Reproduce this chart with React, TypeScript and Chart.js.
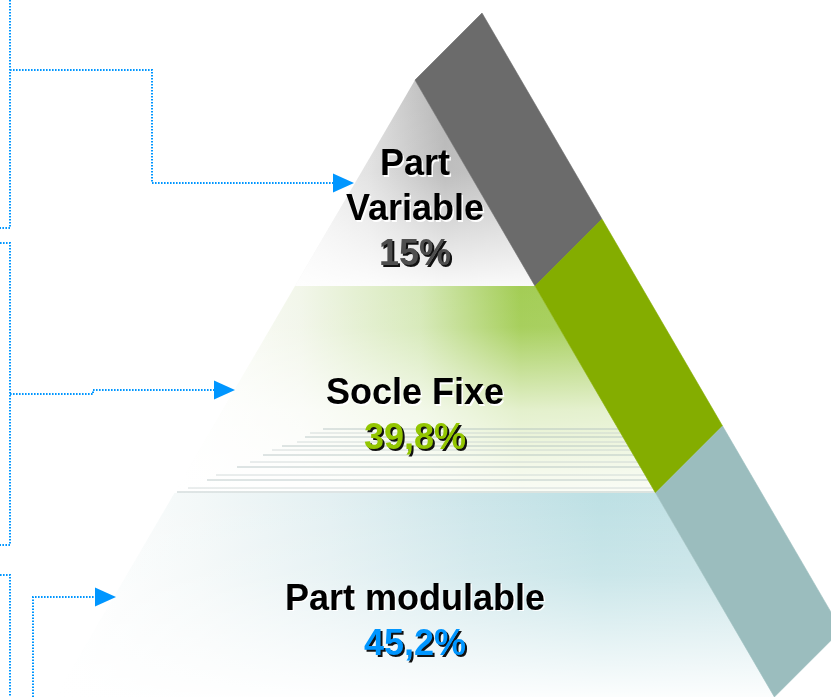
import React, { useEffect, useRef } from 'react';
import { Chart, registerables } from 'chart.js';

Chart.register(...registerables);

// ---- data ----
const categories: string[][] = [['Part', 'Variable'], ['Socle Fixe'], ['Part modulable']];
const shares: string[] = ['15%', '39,8%', '45,2%'];
// level boundaries of the pyramid (apex -> base), in chart units
const levelEdges: number[] = [80, 286, 493, 697];
const apexX = 415;
const sideSlope = 0.5825;
const sideDepth = 67;
// decorative streaks in the middle level
const streakY: number[] = [429, 433, 437, 442, 446, 450, 455, 462, 467, 475, 480, 488, 492];
const streakStart: number[] = [323, 310, 305, 297, 282, 272, 263, 250, 237, 216, 207, 188, 177];
// dotted connector paths (x, y)
const connectorPaths: number[][][] = [
  [[10, 0], [10, 228], [0, 228]],
  [[10, 70], [152, 70], [152, 183], [333, 183]],
  [[0, 243], [10, 243], [10, 545], [0, 545]],
  [[10, 394], [93, 394], [93, 390], [214, 390]],
  [[0, 575], [10, 575], [10, 697]],
  [[33, 697], [33, 597], [95, 597]],
];
const arrowTargets: number[] = [1, 3, 5];

// ---- styles ----
const shareColors = ['#4f4f4f', '#93c600', '#0096ff'];
const sideColors = ['#6b6b6b', '#84ad00', '#9bbdbe'];
const bandHStops: [number, string][][] = [
  [[290, '#f6f6f6'], [370, '#dedede'], [445, '#b5b5b5'], [535, '#c4c4c4']],
  [[175, '#ffffff'], [300, '#f2f6ea'], [420, '#d6e9b8'], [520, '#a3cd55'], [655, '#aad163']],
  [[58, '#ffffff'], [200, '#f3f8f8'], [330, '#e3f0f2'], [470, '#cde6ea'], [600, '#bde0e4'], [775, '#c5e2e6']],
];
const bandVFade: [number, number][][] = [
  [[0, 0], [0.45, 0.12], [1, 0.92]],
  [[0, 0], [0.2, 0.05], [0.6, 0.7], [1, 0.95]],
  [[0, 0], [0.4, 0.2], [1, 0.95]],
];
const blue = '#0096ff';
const FONT = 'bold 36px "Liberation Sans", Arial, Helvetica, sans-serif';

const edgeX = (y: number, side: number) => apexX + side * sideSlope * (y - levelEdges[0]);

function bandPolygon(i: number) {
  const t = levelEdges[i];
  const b = levelEdges[i + 1];
  const p = [
    { x: edgeX(t, -1), y: t },
    { x: edgeX(t, 1), y: t },
    { x: edgeX(b, 1), y: b },
    { x: edgeX(b, -1), y: b },
  ];
  return [...p, p[0]];
}

function sidePolygon(i: number) {
  const t = levelEdges[i];
  const b = levelEdges[i + 1];
  const p = [
    { x: edgeX(t, 1), y: t },
    { x: edgeX(t, 1) + sideDepth, y: t - sideDepth },
    { x: edgeX(b, 1) + sideDepth, y: b - sideDepth },
    { x: edgeX(b, 1), y: b },
  ];
  return [...p, p[0]];
}

function hGrad(chart: any, i: number) {
  const { ctx, scales, chartArea } = chart;
  if (!chartArea || !scales.x) return sideColors[i];
  const st = bandHStops[i];
  const x0 = st[0][0];
  const x1 = st[st.length - 1][0];
  const g = ctx.createLinearGradient(scales.x.getPixelForValue(x0), 0, scales.x.getPixelForValue(x1), 0);
  st.forEach(([x, c]) => g.addColorStop((x - x0) / (x1 - x0), c));
  return g;
}

function vFade(chart: any, i: number) {
  const { ctx, scales, chartArea } = chart;
  if (!chartArea || !scales.y) return 'rgba(255,255,255,0)';
  const g = ctx.createLinearGradient(
    0,
    scales.y.getPixelForValue(levelEdges[i]),
    0,
    scales.y.getPixelForValue(levelEdges[i + 1])
  );
  bandVFade[i].forEach(([p, a]) => g.addColorStop(p, `rgba(255,255,255,${a})`));
  return g;
}

const textPlugin = {
  id: 'pyramidText',
  afterDatasetsDraw(chart: any) {
    const { ctx } = chart;
    const xs = chart.scales.x;
    const ys = chart.scales.y;
    ctx.save();
    ctx.font = FONT;
    ctx.textAlign = 'center';
    ctx.textBaseline = 'alphabetic';
    categories.forEach((cat, i) => {
      const mid = (levelEdges[i] + levelEdges[i + 1]) / 2;
      const cx = xs.getPixelForValue(apexX);
      const base = ys.getPixelForValue(mid) + 37;
      const lines = [...cat, shares[i]];
      lines.forEach((ln, j) => {
        const by = base + (j - (lines.length - 1) / 2) * 45;
        const isShare = j === lines.length - 1;
        if (isShare) {
          ctx.fillStyle = '#111';
          ctx.fillText(ln, cx + 2, by + 2);
          ctx.fillStyle = shareColors[i];
        } else {
          ctx.fillStyle = 'rgba(255,255,255,0.95)';
          ctx.fillText(ln, cx + 1.5, by + 1.5);
          ctx.fillStyle = '#000';
        }
        ctx.fillText(ln, cx, by);
      });
    });
    ctx.restore();
  },
};

export default function App() {
  const ref = useRef<HTMLCanvasElement | null>(null);

  useEffect(() => {
    document.body.style.margin = '0';
    document.body.style.overflow = 'hidden';
    const canvas = ref.current;
    if (!canvas) return;

    const arrow = document.createElement('canvas');
    arrow.width = 21;
    arrow.height = 20;
    const actx = arrow.getContext('2d')!;
    actx.fillStyle = blue;
    actx.beginPath();
    actx.moveTo(0, 0.5);
    actx.lineTo(21, 10);
    actx.lineTo(0, 19.5);
    actx.closePath();
    actx.fill();

    const datasets: any[] = [];
    const base = { pointRadius: 0, tension: 0, spanGaps: true };

    categories.forEach((_, i) => {
      datasets.push({
        ...base,
        data: bandPolygon(i),
        fill: 'shape',
        backgroundColor: (c: any) => hGrad(c.chart, i),
        borderColor: 'rgba(0,0,0,0)',
        borderWidth: 0,
      });
      datasets.push({
        ...base,
        data: bandPolygon(i),
        fill: 'shape',
        backgroundColor: (c: any) => vFade(c.chart, i),
        borderColor: 'rgba(0,0,0,0)',
        borderWidth: 0,
      });
    });

    streakY.forEach((y, k) => {
      datasets.push({
        ...base,
        data: [
          { x: streakStart[k], y },
          { x: edgeX(y, 1), y },
        ],
        fill: false,
        borderColor: k % 2 === 0 ? 'rgba(170,185,185,0.75)' : 'rgba(195,205,205,0.7)',
        borderWidth: 1,
      });
    });

    categories.forEach((_, i) => {
      datasets.push({
        ...base,
        data: sidePolygon(i),
        fill: 'shape',
        backgroundColor: sideColors[i],
        borderColor: sideColors[i],
        borderWidth: 0.6,
      });
    });

    connectorPaths.forEach((path) => {
      datasets.push({
        ...base,
        data: path.map(([x, y]) => ({ x, y })),
        fill: false,
        borderColor: blue,
        borderWidth: 2,
        borderDash: [1.6, 1.4],
        borderCapStyle: 'butt',
        borderJoinStyle: 'miter',
      });
    });

    datasets.push({
      data: arrowTargets.map((k) => {
        const p = connectorPaths[k][connectorPaths[k].length - 1];
        return { x: p[0] + 10.5, y: p[1] };
      }),
      showLine: false,
      fill: false,
      pointStyle: arrow,
      pointRadius: 10,
      pointBorderWidth: 0,
      borderWidth: 0,
    });

    datasets.forEach((d, k) => {
      d.order = datasets.length - k;
    });

    const chart = new Chart(canvas, {
      type: 'line',
      data: { datasets },
      options: {
        animation: false,
        responsive: false,
        devicePixelRatio: 1,
        events: [],
        layout: { padding: 0, autoPadding: false },
        plugins: {
          legend: { display: false },
          tooltip: { enabled: false },
        },
        scales: {
          x: { type: 'linear', min: 0, max: 831, display: false },
          y: { type: 'linear', min: 0, max: 697, reverse: true, display: false },
        },
      },
      plugins: [textPlugin],
    } as any);

    return () => chart.destroy();
  }, []);

  return (
    <div style={{ width: 831, height: 697, background: '#fff' }}>
      <canvas ref={ref} width={831} height={697} style={{ display: 'block' }} />
    </div>
  );
}
